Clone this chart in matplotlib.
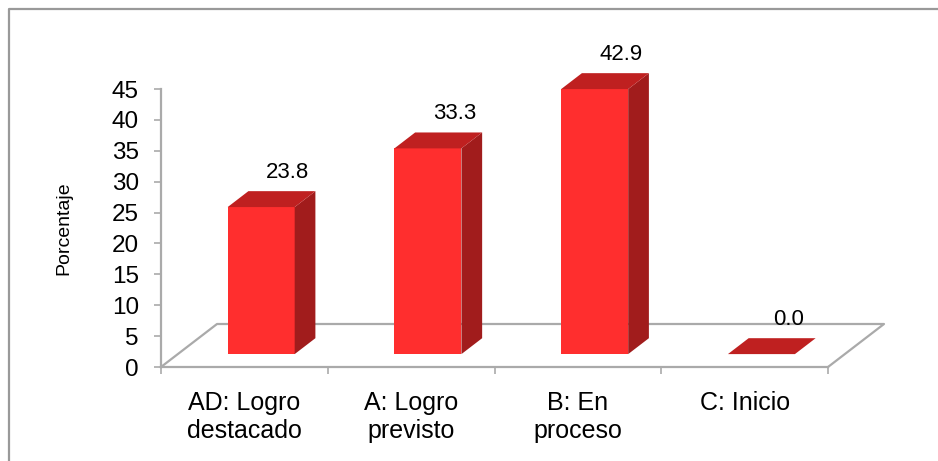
import matplotlib.pyplot as plt
from matplotlib.patches import Polygon
from matplotlib.lines import Line2D

plt.rcParams['font.family'] = ['Liberation Sans', 'DejaVu Sans']

categories = ["AD: Logro\ndestacado", "A: Logro\nprevisto", "B: En\nproceso", "C: Inicio"]
values = [23.8, 33.3, 42.9, 0.0]
yticks = [0, 5, 10, 15, 20, 25, 30, 35, 40, 45]

front_color = "#ff2e2e"
side_color = "#a11c1c"
top_color = "#bf2020"
grid_color = "#aaaaaa"

W, H = 938, 461
fig = plt.figure(figsize=(W / 100, H / 100), dpi=100)

# axes placed in pixels: y spine at x=162, y=0 at 367px, y=45 at 89px, x ends at 828px
ax_l, ax_r, ax_t, ax_b = 161, 828, 89, 367
ax = fig.add_axes([ax_l / W, 1 - ax_b / H, (ax_r - ax_l) / W, (ax_b - ax_t) / H])
ncat = len(categories)
ax.set_xlim(0, ncat)
ax.set_ylim(0, 45)

# pixel -> data conversion
px_x = ncat / (ax_r - ax_l)
px_y = 45 / (ax_b - ax_t)

# floor depth and bar geometry (pixels)
floor_dx, floor_dy = 56 * px_x, 43 * px_y
bar_w = 67 * px_x
bar_start = 0.30   # bar front set back as fraction of floor depth
bar_depth = 0.37   # bar depth as fraction of floor depth

# floor outline
ax.add_line(Line2D([0, floor_dx, ncat + floor_dx, ncat], [0, floor_dy, floor_dy, 0],
                   color=grid_color, lw=1.6, clip_on=False, zorder=1))

for i, v in enumerate(values):
    ox = bar_start * floor_dx
    oy = bar_start * floor_dy
    x0 = i + (1 - bar_w) / 2 + ox
    x1 = x0 + bar_w
    y0 = oy
    y1 = oy + v
    dx = bar_depth * floor_dx
    dy = bar_depth * floor_dy
    if v > 0:
        ax.add_patch(Polygon([[x0, y0], [x1, y0], [x1, y1], [x0, y1]],
                             closed=True, fc=front_color, ec="none", zorder=3, clip_on=False))
        ax.add_patch(Polygon([[x1, y0], [x1 + dx, y0 + dy], [x1 + dx, y1 + dy], [x1, y1]],
                             closed=True, fc=side_color, ec="none", zorder=3, clip_on=False))
    ax.add_patch(Polygon([[x0, y1], [x1, y1], [x1 + dx, y1 + dy], [x0 + dx, y1 + dy]],
                         closed=True, fc=top_color, ec="none", zorder=3, clip_on=False))
    ax.text((x0 + x1) / 2 + dx + 6 * px_x, y1 + dy + 19 * px_y, f"{v:.1f}",
            ha="center", va="center", fontsize=16, color="black", zorder=4)

ax.spines["top"].set_visible(False)
ax.spines["right"].set_visible(False)
for s in ["left", "bottom"]:
    ax.spines[s].set_color(grid_color)
    ax.spines[s].set_linewidth(1.6)

ax.set_yticks(yticks)
ax.set_yticklabels([str(t) for t in yticks], fontsize=17.5)
ax.tick_params(axis="y", length=5, width=1.2, color=grid_color, pad=11)

ax.set_xticks(range(ncat + 1))
ax.set_xticklabels([])
ax.tick_params(axis="x", which="major", length=5, width=1.2, color=grid_color)
ax.set_xticks([i + 0.5 for i in range(ncat)], minor=True)
ax.set_xticklabels(categories, minor=True, fontsize=18, linespacing=1.25)
ax.tick_params(axis="x", which="minor", length=0, pad=17)

ax.set_ylabel("Porcentaje", fontsize=14, labelpad=28)

# outer chart border
fig.add_artist(Line2D([9 / W, 9 / W, 1.0], [0, 1 - 9 / H, 1 - 9 / H],
                      color="#999999", lw=1.6, transform=fig.transFigure))

fig.savefig("out.png", dpi=100)
